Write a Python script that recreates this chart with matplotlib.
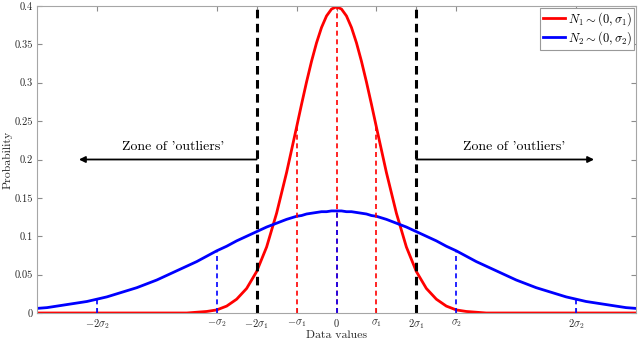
import numpy as np
import matplotlib
matplotlib.use('Agg')
import matplotlib.pyplot as plt

'''
data read from the picture
'''
# sample positions for x >= 0 (curves are symmetric)
x_half = [0, 0.125, 0.25, 0.375, 0.5, 0.625, 0.75, 0.875, 1, 1.25, 1.5, 1.75,
          2, 2.25, 2.5, 2.75, 3, 3.25, 3.5, 3.75, 4, 4.25, 4.5, 4.75, 5,
          5.25, 5.5, 5.75, 6, 6.25, 6.5, 6.75, 7, 7.25, 7.5]
n1_half = [0.399, 0.396, 0.387, 0.372, 0.352, 0.328, 0.301, 0.272, 0.242,
           0.183, 0.130, 0.086, 0.054, 0.032, 0.018, 0.009, 0.004, 0.002,
           0.001, 0, 0, 0, 0, 0, 0, 0, 0, 0, 0, 0, 0, 0, 0, 0, 0]
n2_half = [0.133, 0.133, 0.132, 0.132, 0.131, 0.130, 0.129, 0.127, 0.126,
           0.122, 0.117, 0.112, 0.106, 0.100, 0.094, 0.087, 0.081, 0.074,
           0.067, 0.061, 0.055, 0.049, 0.043, 0.038, 0.033, 0.029, 0.025,
           0.021, 0.018, 0.015, 0.013, 0.011, 0.009, 0.007, 0.006]

red_marks_x = [-1, 0, 1]
red_marks_y = [0.242, 0.399, 0.242]
blue_marks_x = [-6, -3, 0, 3, 6]
blue_marks_y = [0.018, 0.081, 0.133, 0.081, 0.018]
bound_x = [-2, 2]
bound_top = 0.4

arrow_y = 0.2
arrow_ends = [-6.45, 6.45]
zone_text = "Zone of 'outliers'"
zone_text_x = [-4.1, 4.45]

xtick_pos = [-6, -3, -2, -1, 0, 1, 2, 3, 6]
xtick_lab = [r'$-2\sigma_2$', r'$-\sigma_2$', r'$-2\sigma_1$', r'$-\sigma_1$',
             r'$0$', r'$\sigma_1$', r'$2\sigma_1$', r'$\sigma_2$', r'$2\sigma_2$']
ytick_pos = [0, 0.05, 0.1, 0.15, 0.2, 0.25, 0.3, 0.35, 0.4]
ytick_lab = ['0', '0.05', '0.1', '0.15', '0.2', '0.25', '0.3', '0.35', '0.4']

'''
mirror the halves
'''
xh = np.array(x_half)
x = np.concatenate([-xh[::-1], xh[1:]])
n1 = np.concatenate([np.array(n1_half)[::-1], np.array(n1_half)[1:]])
n2 = np.concatenate([np.array(n2_half)[::-1], np.array(n2_half)[1:]])

'''
plot
'''
plt.rcParams['font.family'] = 'serif'
plt.rcParams['font.serif'] = ['cmr10', 'DejaVu Serif']
plt.rcParams['mathtext.fontset'] = 'cm'
plt.rcParams['axes.unicode_minus'] = False

fig = plt.figure(figsize=(6.38, 3.41), dpi=100)
ax = fig.add_axes([37/638, 28/341, 599/638, 307/341])

ax.plot(x, n1, color='#ff0000', lw=2, label=r'$N_1 \sim (0,\sigma_1)$')
ax.plot(x, n2, color='#0000ff', lw=2, label=r'$N_2 \sim (0,\sigma_2)$')

ax.vlines(red_marks_x, 0, red_marks_y, colors='#ff0000', lw=1.2,
          linestyles=(0, (3, 2.2)))
ax.vlines(blue_marks_x, 0, blue_marks_y, colors='#0000ff', lw=1.2,
          linestyles=(0, (3, 2.2)))
ax.vlines(bound_x, 0, bound_top, colors='k', lw=2.2,
          linestyles=(0, (2.8, 1.8)))

for xs, xe, xt in zip(bound_x, arrow_ends, zone_text_x):
    ax.annotate('', xy=(xe, arrow_y), xytext=(xs, arrow_y),
                arrowprops=dict(arrowstyle='-|>', color='k', lw=1.3,
                                mutation_scale=9, shrinkA=0, shrinkB=0))
    ax.text(xt, arrow_y + 0.008, zone_text, ha='center', va='bottom',
            fontsize=10)

ax.set_xlim(-7.5, 7.5)
ax.set_ylim(0, 0.4)
ax.set_xticks(xtick_pos)
ax.set_xticklabels(xtick_lab)
ax.set_yticks(ytick_pos)
ax.set_yticklabels(ytick_lab)
ax.tick_params(direction='in', top=True, right=True, labelsize=7.5,
               length=3.5, color='0.55', labelcolor='0.15', pad=3)
for s in ax.spines.values():
    s.set_color('0.65')
ax.set_xlabel('Data values', fontsize=8.5, labelpad=0, color='0.15')
ax.set_ylabel('Probability', fontsize=8.5, labelpad=1, color='0.15')

leg = ax.legend(loc='upper right', fontsize=9, handlelength=1.8,
                handletextpad=0.2, borderpad=0.2, labelspacing=0.1,
                fancybox=False, framealpha=1, borderaxespad=0.15)
leg.get_frame().set_edgecolor('0.6')
leg.get_frame().set_linewidth(0.8)

fig.savefig('out.png', dpi=100)
